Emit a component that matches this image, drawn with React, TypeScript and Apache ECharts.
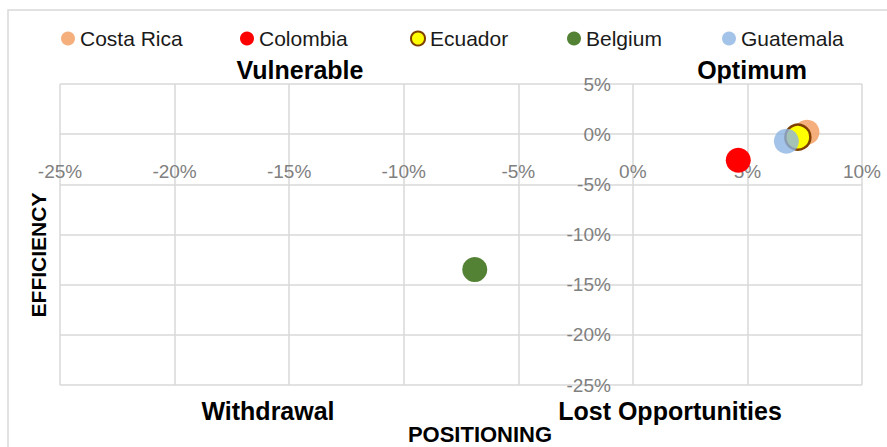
import React, { useEffect, useRef } from "react";
import * as echarts from "echarts";

const countries = ["Costa Rica", "Colombia", "Ecuador", "Belgium", "Guatemala"];
const positioning = [7.6, 4.6, 7.2, -6.9, 6.7];
const efficiency = [0.2, -2.6, -0.3, -13.5, -0.7];
const colors = ["#F4A46A", "#FF0000", "#FFFF00", "#548235", "#8DB4E2"];
const opacities = [0.88, 1, 1, 1, 0.8];
const legendLeft = [56, 235, 405, 562, 717];
const quadrantLabels = ["Vulnerable", "Optimum", "Withdrawal", "Lost Opportunities"];
const FONT = "Liberation Sans, Arial, sans-serif";

const GRID = { left: 60, right: 25, top: 84, bottom: 62 };
const W = 887, H = 447;

export default function App() {
  const ref = useRef<HTMLDivElement>(null);
  useEffect(() => {
    if (!ref.current) return;
    const chart = echarts.init(ref.current, null, { renderer: "svg" });
    const xMin = -25, xMax = 10, yMin = -25, yMax = 5;
    const gw = W - GRID.left - GRID.right;
    const gh = H - GRID.top - GRID.bottom;
    const xOff = -(gw * (0 - xMin)) / (xMax - xMin);
    const yOff = -(gh * (0 - yMin)) / (yMax - yMin);
    const series = countries.map((name, i) => ({
      name,
      type: "scatter",
      symbol: "circle",
      symbolSize: 25,
      data: [[positioning[i], efficiency[i]]],
      itemStyle: {
        color: colors[i],
        opacity: opacities[i],
        borderColor: name === "Ecuador" ? "#7F3F00" : undefined,
        borderWidth: name === "Ecuador" ? 2.5 : 0,
      },
      z: 2 + i,
    }));
    const legends = countries.map((n, i) => ({
      data: [{ name: n, icon: "circle" }],
      left: legendLeft[i],
      top: 23,
      itemWidth: 14,
      itemHeight: 14,
      textStyle: { fontFamily: FONT, fontSize: 21, color: "#1a1a1a" },
    }));
    const bold = { fontFamily: FONT, fontWeight: "bold", fill: "#000" };
    const gridLine = { show: true, lineStyle: { color: "#d9d9d9", width: 1.5 } };
    chart.setOption({
      animation: false,
      textStyle: { fontFamily: FONT },
      grid: GRID,
      legend: legends,
      xAxis: {
        type: "value",
        min: xMin,
        max: xMax,
        interval: 5,
        position: "bottom",
        offset: yOff,
        axisLine: { show: false, onZero: false },
        axisTick: { show: false },
        splitLine: gridLine,
        axisLabel: { formatter: (v: number) => `${v}%`, color: "#808080", fontSize: 19, margin: 28, fontFamily: FONT },
      },
      yAxis: {
        type: "value",
        min: yMin,
        max: yMax,
        interval: 5,
        position: "left",
        offset: xOff,
        axisLine: { show: false, onZero: false },
        axisTick: { show: false },
        splitLine: gridLine,
        axisLabel: { formatter: (v: number) => `${v}%`, color: "#808080", fontSize: 19, margin: 22, fontFamily: FONT },
      },
      graphic: [
        { type: "rect", shape: { x: 8, y: 10, width: 900, height: 460 }, style: { fill: "none", stroke: "#d9d9d9", lineWidth: 1.5 }, silent: true, z: -1 },
        { type: "text", x: 300, y: 70, style: { ...bold, text: quadrantLabels[0], fontSize: 25, textAlign: "center", textVerticalAlign: "middle" } },
        { type: "text", x: 752, y: 70, style: { ...bold, text: quadrantLabels[1], fontSize: 25, textAlign: "center", textVerticalAlign: "middle" } },
        { type: "text", x: 268, y: 411, style: { ...bold, text: quadrantLabels[2], fontSize: 25, textAlign: "center", textVerticalAlign: "middle" } },
        { type: "text", x: 670, y: 411, style: { ...bold, text: quadrantLabels[3], fontSize: 25, textAlign: "center", textVerticalAlign: "middle" } },
        { type: "text", x: 480, y: 434, style: { ...bold, text: "POSITIONING", fontSize: 22, textAlign: "center", textVerticalAlign: "middle" } },
        { type: "text", x: 38, y: 255, rotation: Math.PI / 2, style: { ...bold, text: "EFFICIENCY", fontSize: 21, textAlign: "center", textVerticalAlign: "middle" } },
      ],
      series,
    });
    return () => chart.dispose();
  }, []);
  return <div ref={ref} style={{ position: "absolute", left: 0, top: 0, width: W, height: H, background: "#fff" }} />;
}
